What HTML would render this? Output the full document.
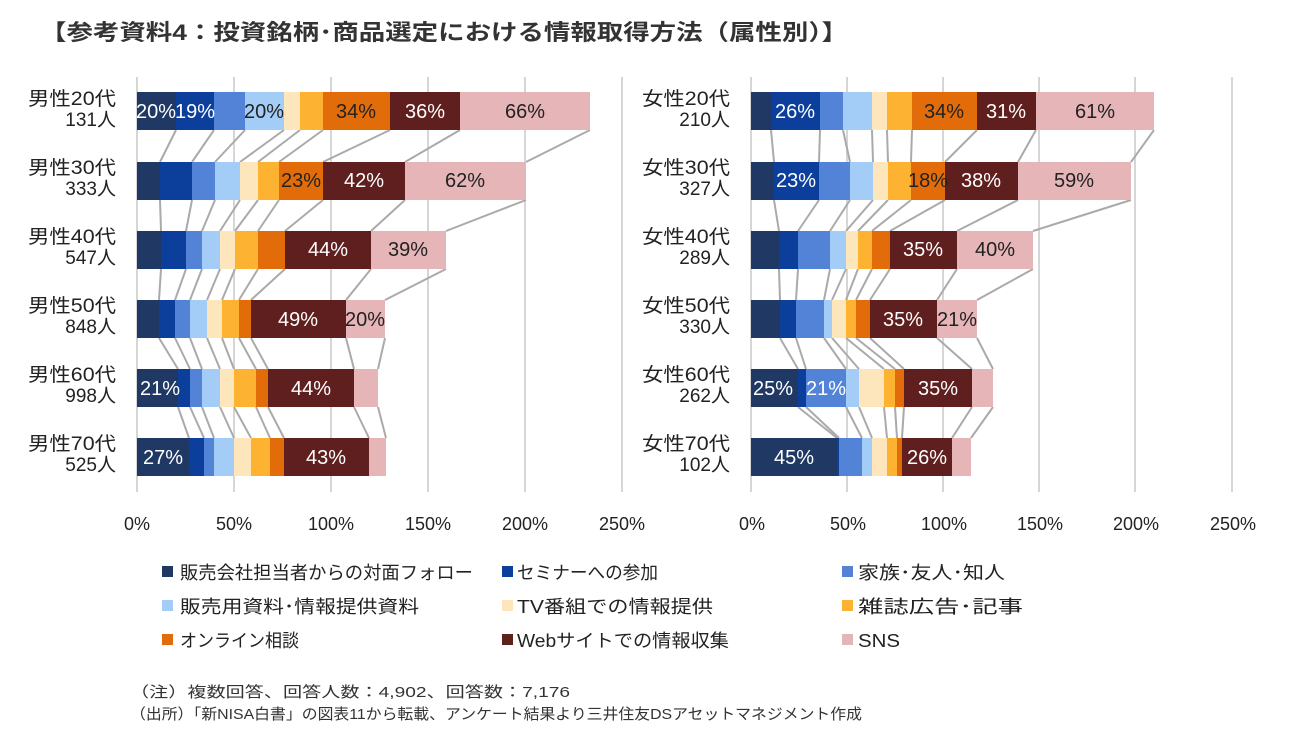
<!DOCTYPE html>
<html><head><meta charset="utf-8"><style>
body{margin:0;background:#fff;width:1306px;height:748px;overflow:hidden}
svg{display:block;font-family:"Liberation Sans","Noto Sans CJK JP",sans-serif}
</style></head><body>
<svg id="s" width="1306" height="748" viewBox="0 0 1306 748">
<text x="40" y="40" font-size="22" font-weight="bold" fill="#333" textLength="808" lengthAdjust="spacingAndGlyphs">【参考資料4：投資銘柄･商品選定における情報取得方法（属性別）】</text>
<g id="grid" stroke="#d6d6d6" stroke-width="2"></g>
<g id="lines" stroke="#aaa" stroke-width="2" fill="none"></g>
<g id="bars"></g>
<g font-size="19" fill="#222" text-anchor="end">
<text x="116" y="105" textLength="88" lengthAdjust="spacingAndGlyphs">男性20代</text><text x="116" y="126">131人</text>
<text x="116" y="174" textLength="88" lengthAdjust="spacingAndGlyphs">男性30代</text><text x="116" y="195">333人</text>
<text x="116" y="243" textLength="88" lengthAdjust="spacingAndGlyphs">男性40代</text><text x="116" y="264">547人</text>
<text x="116" y="312" textLength="88" lengthAdjust="spacingAndGlyphs">男性50代</text><text x="116" y="333">848人</text>
<text x="116" y="381" textLength="88" lengthAdjust="spacingAndGlyphs">男性60代</text><text x="116" y="402">998人</text>
<text x="116" y="450" textLength="88" lengthAdjust="spacingAndGlyphs">男性70代</text><text x="116" y="471">525人</text>
<text x="730" y="105" textLength="88" lengthAdjust="spacingAndGlyphs">女性20代</text><text x="730" y="126">210人</text>
<text x="730" y="174" textLength="88" lengthAdjust="spacingAndGlyphs">女性30代</text><text x="730" y="195">327人</text>
<text x="730" y="243" textLength="88" lengthAdjust="spacingAndGlyphs">女性40代</text><text x="730" y="264">289人</text>
<text x="730" y="312" textLength="88" lengthAdjust="spacingAndGlyphs">女性50代</text><text x="730" y="333">330人</text>
<text x="730" y="381" textLength="88" lengthAdjust="spacingAndGlyphs">女性60代</text><text x="730" y="402">262人</text>
<text x="730" y="450" textLength="88" lengthAdjust="spacingAndGlyphs">女性70代</text><text x="730" y="471">102人</text>
</g>
<g font-size="20" text-anchor="middle">
<g fill="#fff">
<text x="156" y="118">20%</text><text x="195" y="118">19%</text><text x="425" y="118">36%</text>
<text x="364" y="187">42%</text><text x="328" y="256">44%</text><text x="298" y="326">49%</text>
<text x="160" y="395">21%</text><text x="311" y="395">44%</text>
<text x="163" y="464">27%</text><text x="326" y="464">43%</text>
<text x="795" y="118">26%</text><text x="1006" y="118">31%</text>
<text x="796" y="187">23%</text><text x="981" y="187">38%</text>
<text x="923" y="256">35%</text><text x="903" y="326">35%</text>
<text x="773" y="395">25%</text><text x="826" y="395">21%</text><text x="938" y="395">35%</text>
<text x="794" y="464">45%</text><text x="927" y="464">26%</text>
</g>
<g fill="#222">
<text x="264" y="118">20%</text><text x="356" y="118">34%</text><text x="525" y="118">66%</text>
<text x="301" y="187">23%</text><text x="465" y="187">62%</text>
<text x="408" y="256">39%</text><text x="365" y="326">20%</text>
<text x="944" y="118">34%</text><text x="1095" y="118">61%</text>
<text x="928" y="187">18%</text><text x="1074" y="187">59%</text>
<text x="995" y="256">40%</text><text x="957" y="326">21%</text>
</g>
</g>
<g font-size="18" fill="#222" text-anchor="middle">
<text x="137" y="530">0%</text><text x="234" y="530">50%</text><text x="331" y="530">100%</text><text x="428" y="530">150%</text><text x="525" y="530">200%</text><text x="622" y="530">250%</text>
<text x="752" y="530">0%</text><text x="848" y="530">50%</text><text x="944" y="530">100%</text><text x="1040" y="530">150%</text><text x="1136" y="530">200%</text><text x="1233" y="530">250%</text>
</g>
<g font-size="18" fill="#222">
<rect x="162" y="566" width="11" height="11" fill="#1f3864"/><text x="180" y="579" textLength="293" lengthAdjust="spacingAndGlyphs">販売会社担当者からの対面フォロー</text>
<rect x="502" y="566" width="11" height="11" fill="#0c3f9c"/><text x="517" y="579" textLength="141" lengthAdjust="spacingAndGlyphs">セミナーへの参加</text>
<rect x="842" y="566" width="11" height="11" fill="#5283d6"/><text x="858" y="579" textLength="147" lengthAdjust="spacingAndGlyphs">家族･友人･知人</text>
<rect x="162" y="600" width="11" height="11" fill="#a3cdf7"/><text x="180" y="613" textLength="239" lengthAdjust="spacingAndGlyphs">販売用資料･情報提供資料</text>
<rect x="502" y="600" width="11" height="11" fill="#fde5bc"/><text x="517" y="613" textLength="196" lengthAdjust="spacingAndGlyphs">TV番組での情報提供</text>
<rect x="842" y="600" width="11" height="11" fill="#fdb232"/><text x="858" y="613" textLength="165" lengthAdjust="spacingAndGlyphs">雑誌広告･記事</text>
<rect x="162" y="634" width="11" height="11" fill="#e36c0a"/><text x="180" y="647" textLength="119" lengthAdjust="spacingAndGlyphs">オンライン相談</text>
<rect x="502" y="634" width="11" height="11" fill="#5f1f1e"/><text x="517" y="647" textLength="212" lengthAdjust="spacingAndGlyphs">Webサイトでの情報収集</text>
<rect x="842" y="634" width="11" height="11" fill="#e5b5b7"/><text x="858" y="647" textLength="42" lengthAdjust="spacingAndGlyphs">SNS</text>
</g>
<g font-size="15" fill="#333">
<text x="130" y="697" textLength="440" lengthAdjust="spacingAndGlyphs">（注）複数回答、回答人数：4,902、回答数：7,176</text>
<text x="130" y="719" textLength="732" lengthAdjust="spacingAndGlyphs">（出所）「新NISA白書」の図表11から転載、アンケート結果より三井住友DSアセットマネジメント作成</text>
</g>
</svg>
<script>
var C=["#1f3864","#0c3f9c","#5283d6","#a3cdf7","#fde5bc","#fdb232","#e36c0a","#5f1f1e","#e5b5b7"];
var Y=[92,162,231,300,369,438],H=38;
var L=[[137,176,214,245,284,300,323,390,460,590],[137,160,192,215,240,258,279,323,405,526],[137,161,186,202,220,235,258,285,371,446],[137,159,175,190,207,222,239,251,346,385],[137,178,190,202,220,234,256,268,354,378],[137,189,204,214,234,251,270,284,369,386]];
var R=[[751,771,820,843,872,887,912,977,1036,1154],[751,774,819,850,873,888,911,945,1018,1131],[751,779,798,830,846,858,872,890,957,1033],[751,780,796,824,832,846,856,870,937,977],[751,798,806,846,859,884,895,904,972,993],[751,837,839,862,872,887,897,902,952,971]];
var ns="http://www.w3.org/2000/svg";
function el(g,t,a){var e=document.createElementNS(ns,t);for(var k in a)e.setAttribute(k,a[k]);document.getElementById(g).appendChild(e);}
[[137,234,331,428,525,622],[751,847,943,1039,1135,1232]].forEach(function(xs){xs.forEach(function(x){el("grid","line",{x1:x,x2:x,y1:77,y2:492});});});
[L,R].forEach(function(D){
 D.forEach(function(b,i){
  for(var j=0;j<9;j++)el("bars","rect",{x:b[j],y:Y[i],width:b[j+1]-b[j],height:H,fill:C[j]});
  if(i<5){for(var j=1;j<10;j++)el("lines","line",{x1:b[j],y1:Y[i]+H,x2:D[i+1][j],y2:Y[i+1]});}
 });
});
</script>
</body></html>
